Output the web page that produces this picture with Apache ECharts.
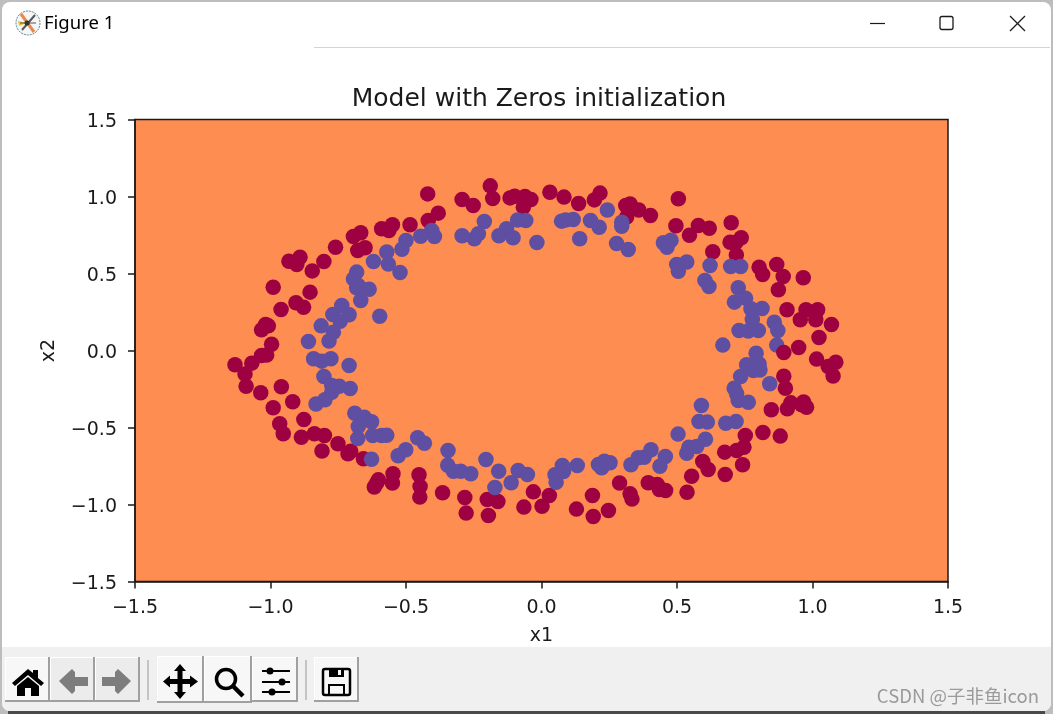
<!DOCTYPE html>
<html>
<head>
<meta charset="utf-8">
<title>Figure 1</title>
<style>
  html, body { margin: 0; padding: 0; background: #bdbdbd; }
  #main { width: 1053px; height: 714px; }
</style>
<script src="https://cdn.jsdelivr.net/npm/echarts@6/dist/echarts.min.js"></script>
</head>
<body>
<div id="main"></div>
<script>
var chartTitle = 'Model with Zeros initialization';
var xName = 'x1';
var yName = 'x2';
var tickValues = [-1.5, -1.0, -0.5, 0.0, 0.5, 1.0, 1.5];

// label 0 points
var redPoints = [
  [-0.420,1.017],[-0.293,0.981],[-0.252,0.942],[-0.189,1.069],[-0.180,0.987],[-0.116,0.991],[-0.099,1.002],
  [-0.061,1.000],[-0.039,0.981],[-0.067,0.931],[-0.381,0.892],[-0.418,0.844],[-0.485,0.816],[-0.550,0.816],
  [-0.590,0.790],[-0.563,0.779],[-0.667,0.764],[-0.694,0.740],[-0.651,0.667],[-0.678,0.649],[-0.760,0.671],
  [-0.803,0.578],[-0.846,0.517],[-0.891,0.606],[-0.932,0.580],[-0.903,0.558],[-0.990,0.411],[-0.854,0.379],
  [-0.906,0.310],[-0.878,0.281],[-0.961,0.266],[-1.018,0.169],[-1.008,0.160],[-1.033,0.134],[-0.996,0.040],
  [-1.014,-0.030],[-1.033,-0.032],[-1.069,-0.082],[-1.131,-0.093],[-1.094,-0.152],[-1.090,-0.232],[-1.036,-0.275],
  [-0.960,-0.236],[-0.918,-0.333],[-0.990,-0.372],[-0.877,-0.448],[-0.966,-0.476],[-0.953,-0.541],[-0.886,-0.563],
  [-0.838,-0.541],[-0.801,-0.552],[-0.751,-0.606],[-0.810,-0.652],[-0.704,-0.654],[-0.714,-0.671],[-0.657,-0.703],
  [-0.602,-0.840],[-0.608,-0.861],[-0.617,-0.887],[-0.548,-0.801],[-0.550,-0.861],[-0.452,-0.807],[-0.448,-0.883],
  [-0.449,-0.952],[-0.365,-0.924],[-0.283,-0.955],[-0.278,-1.056],[-0.200,-0.968],[-0.161,-0.981],[-0.196,-1.071],
  [-0.065,-1.017],[-0.030,-0.918],[0.002,-1.011],[0.029,-0.942],[0.188,-0.942],[0.129,-1.030],[0.191,-1.078],
  [0.247,-1.039],[0.288,-0.861],[0.327,-0.931],[0.334,-0.965],[0.394,-0.859],[0.427,-0.870],[0.435,-0.903],
  [0.458,-0.909],[0.537,-0.920],[0.554,-0.816],[0.595,-0.721],[0.615,-0.773],[0.678,-0.805],[0.742,-0.742],
  [0.676,-0.660],[0.720,-0.649],[0.747,-0.628],[0.752,-0.552],[0.817,-0.532],[0.881,-0.556],[0.848,-0.385],
  [0.907,-0.379],[0.920,-0.340],[0.960,-0.353],[0.967,-0.335],[0.978,-0.368],[0.900,-0.245],[0.894,-0.167],
  [0.949,0.020],[1.015,-0.056],[1.058,-0.104],[1.086,-0.076],[1.076,-0.165],[1.024,0.085],
  [0.031,1.028],[0.083,0.996],[0.137,0.955],[0.195,0.978],[0.216,1.022],[0.311,0.942],[0.327,0.952],
  [0.359,0.913],[0.402,0.877],[0.314,0.866],[0.505,0.985],[0.496,0.810],[0.546,0.749],[0.579,0.812],
  [0.619,0.794],[0.700,0.829],[0.737,0.732],[0.696,0.703],[0.718,0.703],[0.632,0.641],[0.719,0.621],
  [0.803,0.541],[0.816,0.494],[0.868,0.558],[0.892,0.481],[0.966,0.472],[0.874,0.394],[0.906,0.264],
  [0.976,0.264],[0.955,0.199],[1.019,0.264],[1.012,0.199],[1.070,0.169]
];
// the one red point that sits over a blue one
var redTopPoints = [[0.894,-0.013]];

// label 1 points
var bluePoints = [
  [-0.017,0.701],[-0.088,0.848],[-0.058,0.844],[-0.129,0.790],[-0.157,0.745],[-0.105,0.732],[-0.211,0.838],
  [-0.233,0.758],[-0.248,0.725],[-0.293,0.745],[-0.405,0.779],[-0.395,0.740],[-0.446,0.742],[-0.500,0.714],
  [-0.515,0.658],[-0.571,0.639],[-0.565,0.561],[-0.620,0.578],[-0.522,0.506],[-0.682,0.509],[-0.694,0.465],
  [-0.676,0.422],[-0.636,0.398],[-0.682,0.407],[-0.667,0.325],[-0.737,0.292],[-0.710,0.232],[-0.770,0.234],
  [-0.597,0.223],[-0.743,0.190],[-0.813,0.160],[-0.768,0.119],[-0.784,0.062],[-0.860,0.058],[-0.841,-0.054],
  [-0.811,-0.069],[-0.777,-0.054],[-0.710,-0.097],[-0.803,-0.169],[-0.774,-0.227],[-0.746,-0.232],[-0.706,-0.247],
  [-0.774,-0.271],[-0.799,-0.320],[-0.832,-0.348],[-0.689,-0.407],[-0.654,-0.433],[-0.627,-0.463],[-0.676,-0.494],
  [-0.678,-0.571],[-0.623,-0.552],[-0.590,-0.552],[-0.571,-0.550],[-0.627,-0.706],[-0.529,-0.684],[-0.501,-0.645],
  [-0.457,-0.567],[-0.432,-0.602],[-0.345,-0.649],[-0.346,-0.745],[-0.325,-0.784],[-0.298,-0.784],[-0.261,-0.801],
  [-0.205,-0.708],[-0.158,-0.784],[-0.172,-0.890],[-0.112,-0.859],[-0.086,-0.779],[-0.052,-0.805],[0.077,-0.747],
  [0.050,-0.807],[0.081,-0.786],[0.054,-0.855],[0.132,-0.747],[0.210,-0.740],[0.232,-0.719],[0.253,-0.729],
  [0.222,-0.762],[0.330,-0.742],[0.357,-0.697],[0.379,-0.693],[0.404,-0.645],[0.457,-0.688],[0.437,-0.751],
  [0.504,-0.543],[0.536,-0.667],[0.544,-0.628],[0.573,-0.623],[0.605,-0.576],[0.581,-0.461],[0.612,-0.465],
  [0.590,-0.357],[0.680,-0.472],[0.718,-0.461],[0.726,-0.325],[0.763,-0.336],[0.711,-0.245],[0.720,-0.281],
  [0.735,-0.169],[0.757,-0.093],[0.782,-0.130],[0.806,-0.126],[0.803,-0.087],[0.792,-0.018],[0.842,-0.216],
  [0.669,0.035],[0.868,0.035],[0.074,0.840],[0.089,0.848],[0.117,0.851],[0.141,0.725],[0.181,0.844],
  [0.213,0.801],[0.243,0.913],[0.277,0.695],[0.320,0.656],[0.296,0.833],[0.296,0.807],[0.450,0.699],
  [0.478,0.716],[0.463,0.671],[0.499,0.558],[0.536,0.574],[0.505,0.515],[0.505,0.552],[0.622,0.552],
  [0.603,0.455],[0.618,0.416],[0.698,0.545],[0.735,0.545],[0.726,0.407],[0.753,0.340],[0.712,0.314],
  [0.773,0.271],[0.814,0.273],[0.778,0.201],[0.729,0.130],[0.763,0.126],[0.800,0.130],[0.859,0.184],
  [0.872,0.130]
];

// window chrome helpers
function rect(x, y, w, h, fill, r) {
  return { type: 'rect', shape: { x: x, y: y, width: w, height: h, r: r || 0 }, style: { fill: fill }, silent: true };
}
function line(x1, y1, x2, y2, color, w) {
  return { type: 'line', shape: { x1: x1, y1: y1, x2: x2, y2: y2 }, style: { stroke: color, lineWidth: w || 1 }, silent: true };
}
function poly(points, fill) {
  return { type: 'polygon', shape: { points: points }, style: { fill: fill }, silent: true };
}
function button(x, y, w, h, fill) {
  return [
    rect(x, y, w, h, fill),
    line(x, y + 0.5, x + w, y + 0.5, '#ffffff', 1),
    line(x + 0.5, y, x + 0.5, y + h, '#ffffff', 1),
    line(x, y + h - 1, x + w, y + h - 1, '#a0a0a0', 2),
    line(x + w - 1, y, x + w - 1, y + h, '#a0a0a0', 2)
  ];
}
function slider(y, kx) {
  return [line(262, y, 290, y, '#000', 2), { type: 'circle', shape: { cx: kx, cy: y, r: 3.5 }, style: { fill: '#000' }, silent: true }];
}

var chrome = [].concat(
  [
    rect(2, 2, 1049, 709, '#ffffff', 8),
    rect(2, 647, 1049, 64, '#f0f0f0', [0, 0, 8, 8]),
    rect(8, 711, 1037, 3, '#4a4a4a'),
    line(314, 47.5, 1050, 47.5, '#d4d4d4', 1),

    // window icon
    { type: 'circle', shape: { cx: 28, cy: 23, r: 12 }, style: { fill: '#f6f6f6', stroke: '#4f8392', lineWidth: 1, lineDash: [2, 1] }, silent: true },
    line(21, 14, 34, 32, '#e58a4c', 3),
    poly([[18, 21], [27, 23], [19, 26]], '#f2c230'),
    line(35, 15, 22, 30, '#555555', 2),
    line(20, 23, 36, 23, '#555555', 1),
    { type: 'circle', shape: { cx: 27, cy: 23, r: 2.5 }, style: { fill: '#333' }, silent: true },
    { type: 'text', style: { x: 44, y: 24, text: 'Figure 1', fill: '#000', font: '18.5px "Noto Sans"', textVerticalAlign: 'middle' }, silent: true },

    // window buttons
    line(870, 23.5, 885, 23.5, '#1a1a1a', 1.2),
    { type: 'rect', shape: { x: 940, y: 16.5, width: 13, height: 13, r: 2 }, style: { fill: 'none', stroke: '#1a1a1a', lineWidth: 1.3 }, silent: true },
    line(1010, 16, 1025, 31, '#1a1a1a', 1.2),
    line(1025, 16, 1010, 31, '#1a1a1a', 1.2),

    line(148, 660, 148, 700, '#c4c4c4', 2),
    line(306, 660, 306, 700, '#c4c4c4', 2)
  ],
  button(5, 657, 45, 45, '#f7f7f7'),
  button(50, 657, 45, 45, '#ececec'),
  button(95, 657, 45, 45, '#ececec'),
  button(157, 656, 47, 47, '#f7f7f7'),
  button(204, 656, 48, 47, '#f7f7f7'),
  button(252, 657, 46, 45, '#f7f7f7'),
  button(314, 657, 45, 45, '#f7f7f7'),
  [
    // home
    poly([[12, 683], [28, 669], [33, 673], [33, 670], [38, 670], [38, 678], [44, 683], [41, 686], [28, 675], [15, 686]], '#000'),
    poly([[17, 686], [28, 677], [39, 686], [39, 696], [31, 696], [31, 688], [25, 688], [25, 696], [17, 696]], '#000'),
    // back and forward
    poly([[59, 681], [72, 669], [75, 672], [75, 677], [88, 677], [88, 686], [75, 686], [75, 691], [72, 694]], '#7d7d7d'),
    poly([[131, 681], [118, 669], [115, 672], [115, 677], [102, 677], [102, 686], [115, 686], [115, 691], [118, 694]], '#7d7d7d'),
    // move
    poly([[180, 664], [186, 671], [182.5, 671], [182.5, 679], [190, 679], [190, 675.5], [198, 681.5], [190, 687.5], [190, 684], [182.5, 684], [182.5, 692], [186, 692], [180, 699], [174, 692], [177.5, 692], [177.5, 684], [170, 684], [170, 687.5], [163, 681.5], [170, 675.5], [170, 679], [177.5, 679], [177.5, 671], [174, 671]], '#000'),
    // zoom
    { type: 'circle', shape: { cx: 226, cy: 679, r: 9.5 }, style: { fill: 'none', stroke: '#000', lineWidth: 3.5 }, silent: true },
    line(233, 686, 243, 696, '#000', 4.5)
  ],
  slider(671, 270), slider(682, 282), slider(692, 272),
  [
    // save
    { type: 'rect', shape: { x: 323, y: 669, width: 27, height: 26, r: 2 }, style: { fill: 'none', stroke: '#000', lineWidth: 2.5 }, silent: true },
    rect(329, 669, 15, 8, '#000'),
    rect(338, 670, 3, 5, '#f7f7f7'),
    { type: 'rect', shape: { x: 329, y: 685, width: 15, height: 10 }, style: { fill: 'none', stroke: '#000', lineWidth: 2 }, silent: true },
    { type: 'text', style: { x: 1039, y: 696, text: 'CSDN @子非鱼icon', fill: '#9a9a9a', font: '18.5px "Noto Sans CJK SC"', textAlign: 'right', textVerticalAlign: 'middle' }, silent: true }
  ]
);
// keep the window behind the grid
chrome.forEach(function (el) { el.z = -1; });

function tickText(v) {
  return v.toFixed(1).replace('-', '\u2212');
}

var myChart = echarts.init(document.getElementById('main'), null, { renderer: 'canvas' });
var labelFont = 'DejaVu Sans';
var labelColor = '#1a1a1a';

function axis(name, gap, rotate, margin) {
  return {
    type: 'value',
    min: tickValues[0],
    max: tickValues[tickValues.length - 1],
    interval: 0.5,
    name: name,
    nameLocation: 'middle',
    nameGap: gap,
    nameRotate: rotate,
    nameTextStyle: { color: labelColor, fontSize: 19, fontFamily: labelFont },
    axisLine: { show: true, onZero: false, lineStyle: { color: labelColor, width: 1.5 } },
    axisTick: { show: true, inside: false, length: 7, lineStyle: { color: labelColor, width: 1.5 } },
    axisLabel: { color: labelColor, fontSize: 19, fontFamily: labelFont, margin: margin, formatter: tickText, showMinLabel: true, showMaxLabel: true },
    splitLine: { show: false }
  };
}

var yAxis = axis(yName, 76, 90, 18);
// y labels sit a little below their ticks in the original
yAxis.axisLabel.formatter = function (v) { return '{t|' + tickText(v) + '}'; };
yAxis.axisLabel.rich = { t: { color: labelColor, fontSize: 19, fontFamily: labelFont, padding: [5, 0, 0, 0] } };

myChart.setOption({
  animation: false,
  backgroundColor: 'transparent',
  title: {
    text: chartTitle,
    left: 534,
    top: 82,
    textAlign: 'center',
    textStyle: { color: labelColor, fontWeight: 'normal', fontSize: 25, fontFamily: labelFont }
  },
  grid: {
    left: 135, top: 119.5, width: 813, height: 462,
    show: true, backgroundColor: '#fd8d50', borderColor: labelColor, borderWidth: 1.5
  },
  xAxis: axis(xName, 45, 0, 17),
  yAxis: yAxis,
  series: [
    { type: 'scatter', name: 'y=0', data: redPoints, symbolSize: 15.5, itemStyle: { color: '#9e0142', opacity: 1 } },
    { type: 'scatter', name: 'y=1', data: bluePoints, symbolSize: 15.5, itemStyle: { color: '#5e4fa2', opacity: 1 } },
    { type: 'scatter', name: 'y=0 top', data: redTopPoints, symbolSize: 15.5, itemStyle: { color: '#9e0142', opacity: 1 } }
  ],
  graphic: { elements: chrome }
});
</script>
</body>
</html>
